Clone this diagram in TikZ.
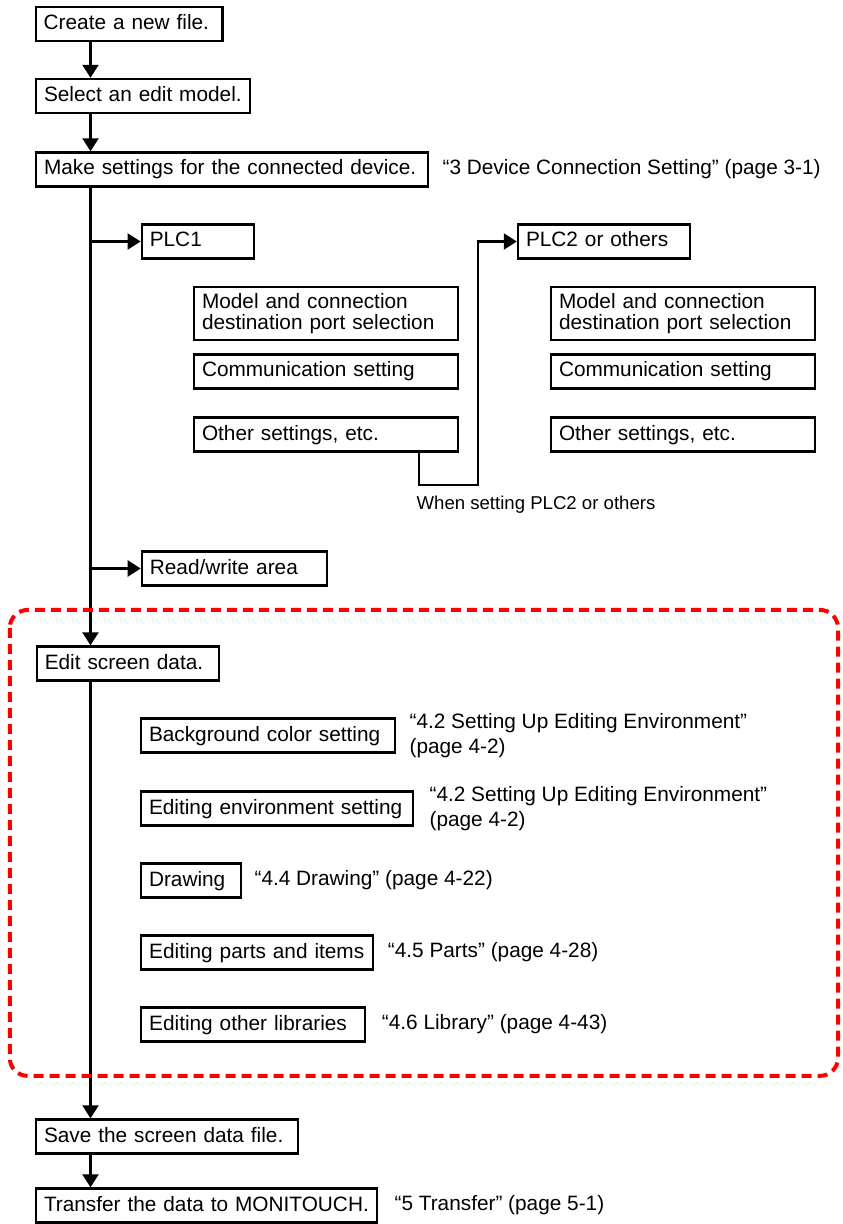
\documentclass[tikz,border=0pt]{standalone}
\usepackage{fontspec}
\setmainfont{Liberation Sans}
\usepackage{tikz}
\usetikzlibrary{arrows.meta, positioning, calc}

\begin{document}
\begin{tikzpicture}[node distance=36pt, font=\fontsize{10.4}{10.5}\selectfont]
\tikzstyle{box} = [rectangle, draw=black, line width=1.2pt, minimum height=17pt,
    inner xsep=4pt, inner ysep=0pt, text height=8pt, text depth=2.5pt, align=left]
\tikzstyle{ref} = [inner sep=0pt, align=left, font=\fontsize{10.4}{12.5}\selectfont]
\tikzstyle{note} = [inner sep=0pt, font=\fontsize{9.3}{11}\selectfont]
\tikzstyle{arrow} = [line width=1.1pt, ->, >={Triangle[length=6.5pt, width=8pt]}]
\tikzstyle{group} = [draw=red, line width=2pt, dash pattern=on 5pt off 3pt, rounded corners=9pt]

\path [use as bounding box] (0,0) rectangle (421pt,-612pt);

\node (new)  [box, text width=85.3pt] at (64.5pt,-12pt) {Create a new file.};
\node (sel)  [box, below of=new, xshift=7pt, text width=99pt] {Select an edit model.};
\node (dev)  [box, below of=sel, xshift=44.5pt, yshift=-0.75pt, text width=188pt] {Make settings for the connected device.};

\node (plc1) [box, below of=dev, xshift=-17pt, text width=48.2pt] {PLC1};
\node (mdl1) [box, below of=plc1, xshift=64pt, text width=124pt, minimum height=26.5pt, text depth=13pt] {Model and connection\\destination port selection};
\node (com1) [box, below of=mdl1, yshift=7pt, text width=124pt] {Communication setting};
\node (oth1) [box, below of=com1, yshift=4.5pt, text width=124pt] {Other settings, etc.};

\node (plc2) [box, right of=plc1, xshift=167pt, text width=78pt] {PLC2 or others};
\node (mdl2) [box, right of=mdl1, xshift=142.5pt, text width=124pt, minimum height=26.5pt, text depth=13pt] {Model and connection\\destination port selection};
\node (com2) [box, right of=com1, xshift=142.5pt, text width=124pt] {Communication setting};
\node (oth2) [box, right of=oth1, xshift=142.5pt, text width=124pt] {Other settings, etc.};

\node (rw)   [box, below of=oth1, xshift=-45.75pt, yshift=-31pt, text width=84.6pt] {Read/write area};

\node (edit) [box, below of=rw, xshift=-53.25pt, yshift=-11.5pt, text width=83.2pt] {Edit screen data.};
\node (bg)   [box, below of=edit, xshift=70pt, text width=119pt] {Background color setting};
\node (env)  [box, below of=bg, xshift=4.5pt, yshift=-0.5pt, text width=128pt] {Editing environment setting};
\node (drw)  [box, below of=env, xshift=-43pt, text width=42pt] {Drawing};
\node (prt)  [box, below of=drw, xshift=33pt, text width=107.8pt] {Editing parts and items};
\node (lib)  [box, below of=prt, xshift=-2pt, text width=103.8pt] {Editing other libraries};

\node (save) [box, below of=lib, xshift=-43pt, yshift=-20pt, text width=123pt] {Save the screen data file.};
\node (xfer) [box, below of=save, xshift=19.75pt, yshift=1.5pt, text width=162.5pt] {Transfer the data to MONITOUCH.};

\node (ref3)   [ref, right=6.5pt of dev] {“3 Device Connection Setting” (page 3-1)};
\node (ref42a) [ref, right=6.5pt of bg] {“4.2 Setting Up Editing Environment”\\(page 4-2)};
\node (ref42b) [ref, right=7.5pt of env] {“4.2 Setting Up Editing Environment”\\(page 4-2)};
\node (ref44)  [ref, right=6pt of drw] {“4.4 Drawing” (page 4-22)};
\node (ref45)  [ref, right=6.75pt of prt] {“4.5 Parts” (page 4-28)};
\node (ref46)  [ref, right=7.75pt of lib] {“4.6 Library” (page 4-43)};
\node (ref5)   [ref, right=8pt of xfer] {“5 Transfer” (page 5-1)};

\coordinate (spine) at ($(new.south west)+(28pt,0)$);

\draw [arrow] (new.south -| spine) -- (sel.north -| spine);
\draw [arrow] (sel.south -| spine) -- (dev.north -| spine);
\draw [arrow] (dev.south -| spine) -- (edit.north -| spine);
\draw [arrow] (plc1.west -| spine) -- (plc1.west);
\draw [arrow] (rw.west -| spine) -- (rw.west);
\draw [arrow] ($(oth1.south east)+(-20pt,0)$) -- ++(0,-16.3pt) -| ($(plc2.west)+(-19.5pt,0)$) -- (plc2.west);
\node (note) [note, anchor=north west] at ($(oth1.south east)+(-21.5pt,-21.5pt)$) {When setting PLC2 or others};
\draw [arrow] (edit.south -| spine) -- (save.north -| spine);
\draw [arrow] (save.south -| spine) -- (xfer.north -| spine);

\draw [group] ($(edit.north west)+(-12.9pt,17.7pt)$) rectangle ($(lib.south east)+(236pt,-16.6pt)$);

\end{tikzpicture}
\end{document}
